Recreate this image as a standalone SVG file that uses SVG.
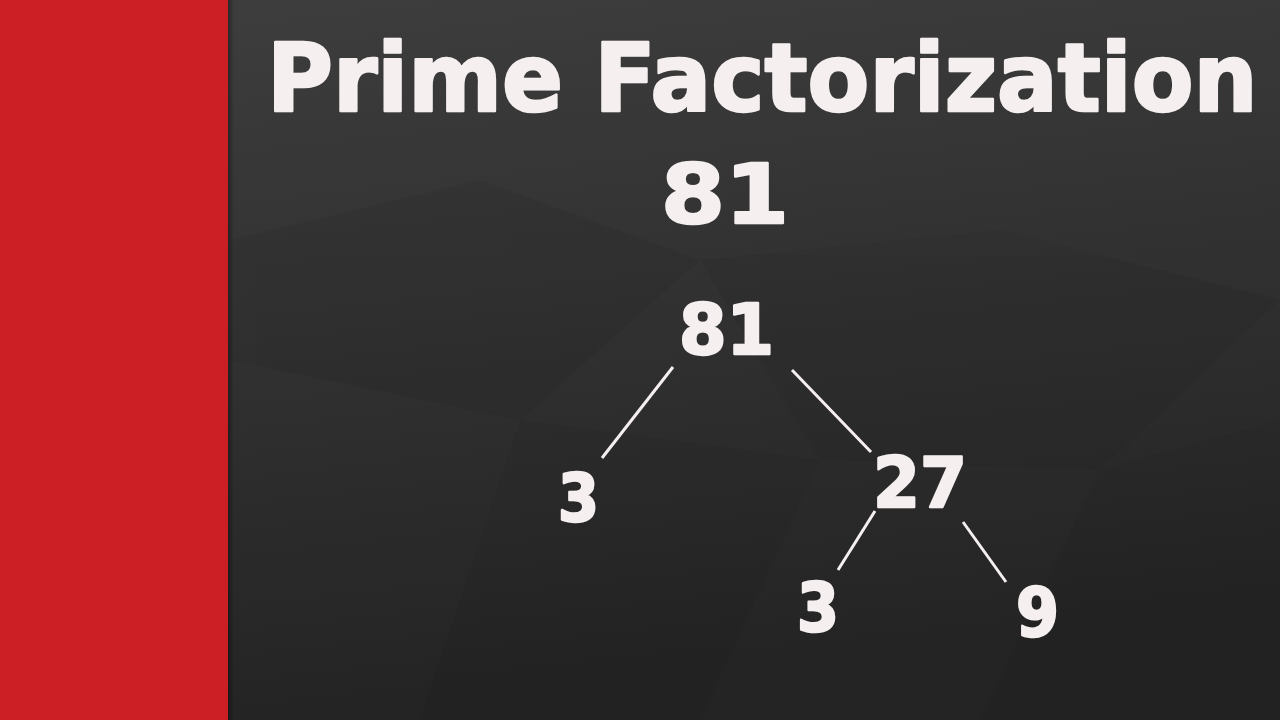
<svg xmlns="http://www.w3.org/2000/svg" width="1280" height="720" viewBox="0 0 1280 720">
<defs>
<linearGradient id="bg" x1="0" y1="0" x2="0.2" y2="1">
<stop offset="0" stop-color="#3e3e3e"/>
<stop offset="0.5" stop-color="#313131"/>
<stop offset="1" stop-color="#242424"/>
</linearGradient>
<linearGradient id="shade" x1="0" y1="0" x2="1" y2="0">
<stop offset="0" stop-color="#000" stop-opacity="0.35"/>
<stop offset="1" stop-color="#000" stop-opacity="0"/>
</linearGradient>
<style>
.t{font-family:"DejaVu Sans","Liberation Sans",sans-serif;font-weight:bold;fill:#f5eff0;stroke:#f5eff0;stroke-width:2.5;stroke-linejoin:round}
.c line{stroke:#f5eff0;stroke-width:3;stroke-linecap:butt}
</style>
</defs>
<rect x="0" y="0" width="1280" height="720" fill="url(#bg)"/>
<g opacity="0.04" fill="#000">
<polygon points="230,240 480,180 700,260 520,420 230,360"/>
<polygon points="700,260 1000,230 1280,300 1100,470 820,460"/>
<polygon points="520,420 820,460 700,720 420,720"/>
<polygon points="1100,470 1280,420 1280,720 980,720"/>
</g>
<rect x="0" y="0" width="228" height="720" fill="#cc1f25"/>
<rect x="228" y="0" width="6" height="720" fill="url(#shade)"/>
<g id="title"><text class="t" transform="translate(267,111) scale(1,1.055)" x="0" y="0" font-size="90">Prime Factorization</text></g>
<g id="subtitle"><text class="t" x="661" y="223" font-size="82" textLength="128" lengthAdjust="spacingAndGlyphs">81</text></g>
<g class="c" id="connectors">
<line x1="673" y1="367" x2="602" y2="458"/>
<line x1="792" y1="370" x2="871" y2="452"/>
<line x1="875" y1="511" x2="838" y2="570"/>
<line x1="963" y1="522" x2="1006" y2="582"/>
</g>
<g id="n81"><text class="t" x="679" y="354" font-size="70" textLength="95" lengthAdjust="spacingAndGlyphs">81</text></g>
<g id="n3a"><text class="t" x="558" y="521" font-size="65" textLength="41" lengthAdjust="spacingAndGlyphs">3</text></g>
<g id="n27"><text class="t" x="873" y="507" font-size="70" textLength="94" lengthAdjust="spacingAndGlyphs">27</text></g>
<g id="n3b"><text class="t" x="797" y="631" font-size="68" textLength="42" lengthAdjust="spacingAndGlyphs">3</text></g>
<g id="n9"><text class="t" x="1016" y="636" font-size="68" textLength="43" lengthAdjust="spacingAndGlyphs">9</text></g>
</svg>
